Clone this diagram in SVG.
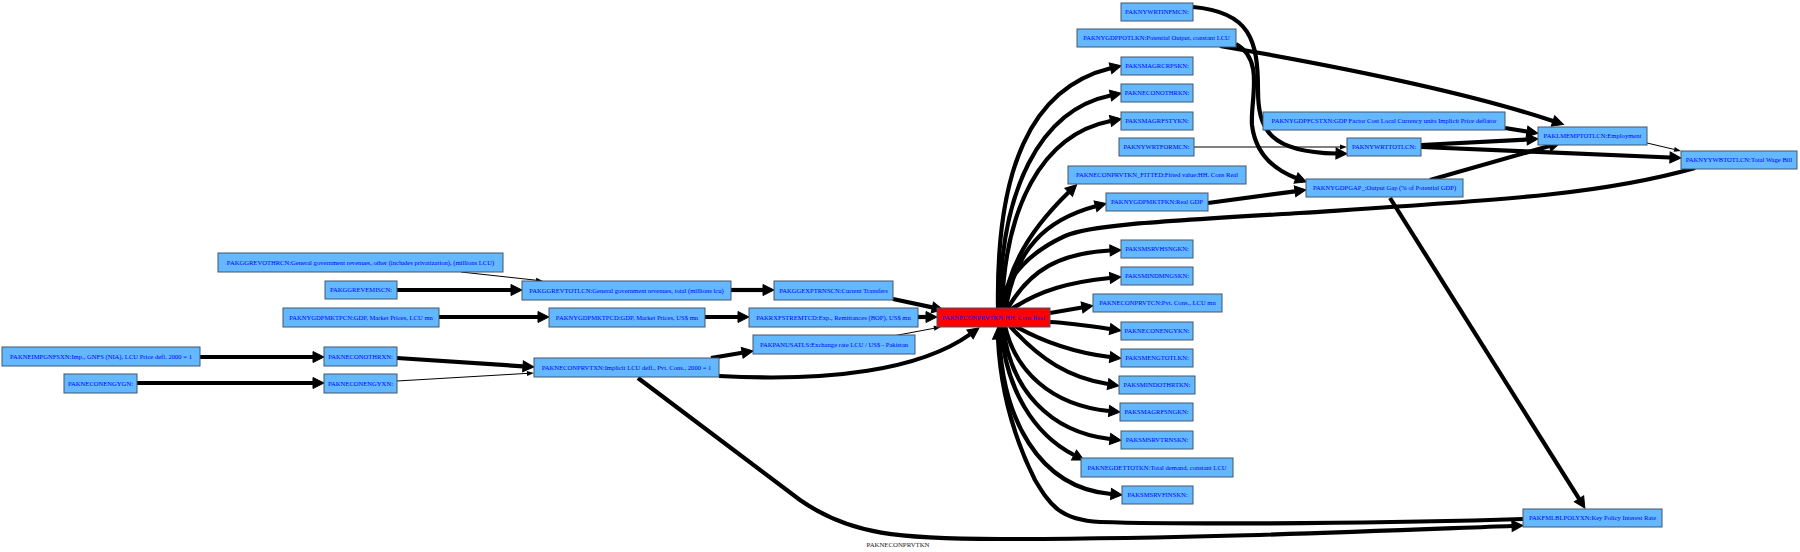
<svg xmlns="http://www.w3.org/2000/svg" width="1800" height="552" viewBox="0 0 1800 552">
<style>
.n rect{fill:#63b8ff;stroke:#44566a;stroke-width:1}
.r rect{fill:#ff0000;stroke:#44566a;stroke-width:1}
text{font-family:"Liberation Serif","Times New Roman",serif;font-size:6.6px;fill:#0000ff;text-anchor:middle}
.e path{fill:none;stroke:#000}
.e .k{stroke-width:4.2;marker-end:url(#a)}
.e .h{stroke-width:1;marker-end:url(#t)}
.lbl{fill:#222;font-size:6.8px}
</style>
<defs>
<marker id="a" markerUnits="userSpaceOnUse" markerWidth="13" markerHeight="13" refX="0" refY="6" orient="auto" overflow="visible"><path d="M0,0.5 L11,6 L0,11.5 z" fill="#000" stroke="#000" stroke-width="1"/></marker>
<marker id="t" markerUnits="userSpaceOnUse" markerWidth="8" markerHeight="6" refX="0" refY="2.5" orient="auto" overflow="visible"><path d="M0,0 L7,2.5 L0,5 z" fill="#000"/></marker>
</defs>
<rect width="1800" height="552" fill="#fff"/>
<g class="e" id="edges">
<path class="h" d="M461,272 L536,280.2"/>
<path class="k" d="M397,290 L511,290"/>
<path class="k" d="M439,317 L538,317"/>
<path class="k" d="M200,357 L313,357"/>
<path class="k" d="M137,383 L313,383"/>
<path class="k" d="M397,358 L523,366.3"/>
<path class="h" d="M397,381 L527,373.4"/>
<path class="k" d="M731,290 L763,290"/>
<path class="k" d="M705,317 L738,317"/>
<path class="k" d="M711,358 L742.2,352.8"/>
<path class="k" d="M719,376 C830,382 920,370 970,334.4"/>
<path class="k" d="M638,378 L800,500 C850,535 900,539 1000,539 C1200,539 1400,530 1512,526"/>
<path class="k" d="M893,299 L932.3,307.4"/>
<path class="k" d="M918,317 L926,317"/>
<path class="h" d="M893,336 L934,328.3"/>
<path class="k" d="M998,308 C996,170 1030,88 1110.5,68.3"/>
<path class="k" d="M1000,308 C1000,190 1040,110 1110.5,95.5"/>
<path class="k" d="M1002,308 C1005,210 1040,135 1110.5,121"/>
<path class="k" d="M1004,308 C1008,260 1040,220 1068.7,192.3"/>
<path class="k" d="M1006,308 C1015,250 1045,220 1095.5,206.3"/>
<path class="k" d="M1695,168 C1600,195 1500,200 1300,213 C1150,222 1090,225 1065,236 C1030,252 1010,275 1003,297"/>
<path class="k" d="M1008,308 C1030,270 1060,253 1110,250.5"/>
<path class="k" d="M1010,310 C1040,290 1070,282 1110,278"/>
<path class="k" d="M1050,313 L1082,307.5"/>
<path class="k" d="M1050,322 C1070,323 1090,326 1110,329"/>
<path class="k" d="M1015,326 C1040,340 1070,352 1110,357"/>
<path class="k" d="M1010,326 C1040,360 1070,378 1108,384"/>
<path class="k" d="M1005,326 C1015,370 1050,405 1109,411"/>
<path class="k" d="M1003,326 C1010,390 1050,432 1110,439"/>
<path class="k" d="M1001,326 C1005,390 1035,435 1074,455"/>
<path class="k" d="M999,326 C1000,420 1040,488 1111,494"/>
<path class="k" d="M1523,519 C1400,523 1200,525 1100,522 C1060,520 1050,505 1035,480 C1010,430 1000,380 998,339"/>
<path class="k" d="M1220,46 C1330,65 1460,90 1553,121"/>
<path class="k" d="M1236,44 C1265,60 1250,100 1252,125 C1255,150 1270,168 1296,178"/>
<path class="k" d="M1193,7 C1250,12 1258,40 1258,90 C1258,130 1270,152 1336,153.5"/>
<path class="h" d="M1194,147 L1340,147"/>
<path class="k" d="M1505,128 L1527,131.5"/>
<path class="k" d="M1421,145 L1527,139.5"/>
<path class="k" d="M1421,147 C1500,150 1600,155 1670,157.5"/>
<path class="h" d="M1647,143 L1674.2,149.4"/>
<path class="k" d="M1430,180 L1549.4,146"/>
<path class="k" d="M1208,203 L1295,191.3"/>
<path class="k" d="M1390,198 L1579,498.7"/>
</g>
<g class="n" id="PAKGGREVOTHRCN"><rect x="218" y="253" width="285" height="19"/><text x="360.5" y="264.8">PAKGGREVOTHRCN:General  government revenues, other (includes privatization), (millions LCU)</text></g>
<g class="n" id="PAKGGREVEMISCN"><rect x="325" y="281" width="72" height="18"/><text x="361" y="292.3">PAKGGREVEMISCN:</text></g>
<g class="n" id="PAKNYGDPMKTPCN"><rect x="283" y="308" width="156" height="19"/><text x="361" y="319.8">PAKNYGDPMKTPCN:GDP, Market Prices, LCU mn</text></g>
<g class="n" id="PAKNEIMPGNFSXN"><rect x="2" y="347" width="198" height="19"/><text x="101" y="358.8">PAKNEIMPGNFSXN:Imp., GNFS (NIA), LCU Price defl. 2000 = 1</text></g>
<g class="n" id="PAKNECONENGYGN"><rect x="64" y="374" width="73" height="19"/><text x="100.5" y="385.8">PAKNECONENGYGN:</text></g>
<g class="n" id="PAKNECONOTHRXN"><rect x="324" y="347" width="73" height="19"/><text x="360.5" y="358.8">PAKNECONOTHRXN:</text></g>
<g class="n" id="PAKNECONENGYXN"><rect x="324" y="374" width="73" height="19"/><text x="360.5" y="385.8">PAKNECONENGYXN:</text></g>
<g class="n" id="PAKGGREVTOTLCN"><rect x="522" y="281" width="209" height="19"/><text x="626.5" y="292.8">PAKGGREVTOTLCN:General government revenues, total (millions lcu)</text></g>
<g class="n" id="PAKGGEXPTRNSCN"><rect x="774" y="281" width="119" height="19"/><text x="833.5" y="292.8">PAKGGEXPTRNSCN:Current Transfers</text></g>
<g class="n" id="PAKNYGDPMKTPCD"><rect x="549" y="308" width="156" height="19"/><text x="627" y="319.8">PAKNYGDPMKTPCD:GDP, Market Prices, US$ mn</text></g>
<g class="n" id="PAKRXFSTREMTCD"><rect x="749" y="308" width="169" height="19"/><text x="833.5" y="319.8">PAKRXFSTREMTCD:Exp., Remittances (BOP), US$ mn</text></g>
<g class="n" id="PAKPANUSATLS"><rect x="753" y="335" width="162" height="19"/><text x="834" y="346.8">PAKPANUSATLS:Exchange rate LCU / US$ - Pakistan</text></g>
<g class="n" id="PAKNECONPRVTXN"><rect x="534" y="358" width="185" height="19"/><text x="626.5" y="369.8">PAKNECONPRVTXN:Implicit LCU defl., Pvt. Cons., 2000 = 1</text></g>
<g class="r" id="PAKNECONPRVTKN"><rect x="937" y="308" width="113" height="19"/><text x="993.5" y="319.8">PAKNECONPRVTKN:HH. Cons Real</text></g>
<g class="n" id="PAKNYWRTINFMCN"><rect x="1121" y="3" width="72" height="18"/><text x="1157" y="14.3">PAKNYWRTINFMCN:</text></g>
<g class="n" id="PAKNYGDPPOTLKN"><rect x="1077" y="29" width="159" height="18"/><text x="1156.5" y="40.3">PAKNYGDPPOTLKN:Potential Output, constant LCU</text></g>
<g class="n" id="PAKSMAGRCRPSKN"><rect x="1121" y="57" width="72" height="18"/><text x="1157" y="68.3">PAKSMAGRCRPSKN:</text></g>
<g class="n" id="PAKNECONOTHRKN"><rect x="1121" y="84" width="72" height="18"/><text x="1157" y="95.3">PAKNECONOTHRKN:</text></g>
<g class="n" id="PAKSMAGRFSTYKN"><rect x="1121" y="112" width="72" height="18"/><text x="1157" y="123.3">PAKSMAGRFSTYKN:</text></g>
<g class="n" id="PAKNYWRTFORMCN"><rect x="1119" y="138" width="75" height="18"/><text x="1156.5" y="149.3">PAKNYWRTFORMCN:</text></g>
<g class="n" id="PAKNECONPRVTKN_FITTED"><rect x="1068" y="166" width="178" height="18"/><text x="1157" y="177.3">PAKNECONPRVTKN_FITTED:Fitted  value:HH. Cons Real</text></g>
<g class="n" id="PAKNYGDPMKTPKN"><rect x="1106" y="193" width="102" height="18"/><text x="1157" y="204.3">PAKNYGDPMKTPKN:Real GDP</text></g>
<g class="n" id="PAKSMSRVHSNGKN"><rect x="1121" y="240" width="72" height="18"/><text x="1157" y="251.3">PAKSMSRVHSNGKN:</text></g>
<g class="n" id="PAKSMINDMNGSKN"><rect x="1121" y="267" width="72" height="18"/><text x="1157" y="278.3">PAKSMINDMNGSKN:</text></g>
<g class="n" id="PAKNECONPRVTCN"><rect x="1093" y="294" width="129" height="18"/><text x="1157.5" y="305.3">PAKNECONPRVTCN:Pvt. Cons., LCU mn</text></g>
<g class="n" id="PAKNECONENGYKN"><rect x="1121" y="322" width="72" height="18"/><text x="1157" y="333.3">PAKNECONENGYKN:</text></g>
<g class="n" id="PAKSMENGTOTLKN"><rect x="1121" y="349" width="72" height="18"/><text x="1157" y="360.3">PAKSMENGTOTLKN:</text></g>
<g class="n" id="PAKSMINDOTHRTKN"><rect x="1119" y="376" width="76" height="18"/><text x="1157" y="387.3">PAKSMINDOTHRTKN:</text></g>
<g class="n" id="PAKSMAGRFSNGKN"><rect x="1120" y="403" width="73" height="18"/><text x="1156.5" y="414.3">PAKSMAGRFSNGKN:</text></g>
<g class="n" id="PAKSMSRVTRNSKN"><rect x="1121" y="431" width="72" height="18"/><text x="1157" y="442.3">PAKSMSRVTRNSKN:</text></g>
<g class="n" id="PAKNEGDETTOTKN"><rect x="1081" y="458" width="152" height="19"/><text x="1157" y="469.8">PAKNEGDETTOTKN:Total demand, constant LCU</text></g>
<g class="n" id="PAKSMSRVFINSKN"><rect x="1122" y="486" width="71" height="18"/><text x="1157.5" y="497.3">PAKSMSRVFINSKN:</text></g>
<g class="n" id="PAKFMLBLPOLYXN"><rect x="1523" y="509" width="139" height="18"/><text x="1592.5" y="520.3">PAKFMLBLPOLYXN:Key Policy Interest Rate</text></g>
<g class="n" id="PAKNYGDPFCSTXN"><rect x="1263" y="112" width="242" height="18"/><text x="1384" y="123.3">PAKNYGDPFCSTXN:GDP Factor Cost Local Currency units Implicit Price deflator</text></g>
<g class="n" id="PAKNYWRTTOTLCN"><rect x="1347" y="138" width="74" height="18"/><text x="1384" y="149.3">PAKNYWRTTOTLCN:</text></g>
<g class="n" id="PAKLMEMPTOTLCN"><rect x="1538" y="127" width="109" height="18"/><text x="1592.5" y="138.3">PAKLMEMPTOTLCN:Employment</text></g>
<g class="n" id="PAKNYYWBTOTLCN"><rect x="1681" y="151" width="116" height="18"/><text x="1739" y="162.3">PAKNYYWBTOTLCN:Total Wage Bill</text></g>
<g class="n" id="PAKNYGDPGAP_"><rect x="1306" y="179" width="157" height="18"/><text x="1384.5" y="190.3">PAKNYGDPGAP_:Output Gap (% of Potential GDP)</text></g>
<text class="lbl" x="898" y="547">PAKNECONPRVTKN</text>
</svg>
